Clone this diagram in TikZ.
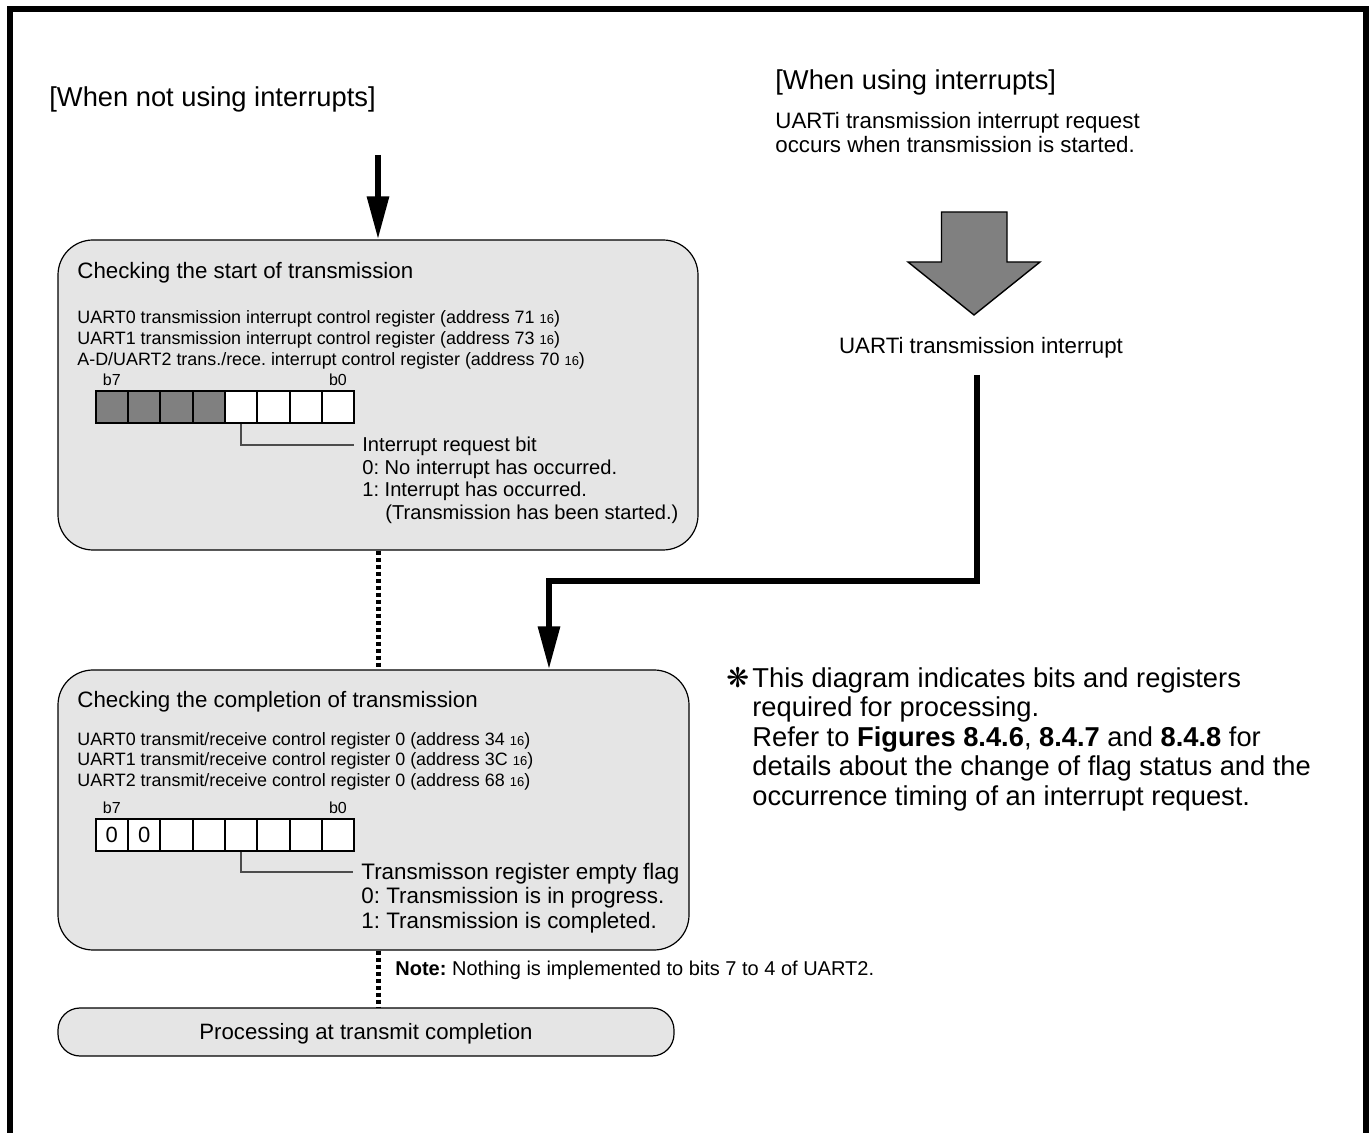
\documentclass[tikz,border=0pt]{standalone}
\usepackage{fontspec}
\setmainfont{Liberation Sans}
\newfontfamily\symfont{DejaVu Sans}
\usetikzlibrary{arrows.meta,positioning}
\definecolor{boxfill}{gray}{0.9}
\definecolor{cellfill}{gray}{0.5}
\newcommand{\hexsub}[1]{#1 {\fontsize{6.5pt}{7pt}\selectfont 16}}
\frenchspacing

\begin{document}
\begin{tikzpicture}[x=0.5pt,y=-0.5pt,
  every node/.style={inner sep=0pt, text height=0.7em, text depth=0pt},
  ttl/.style={anchor=west, font=\fontsize{13.65pt}{16pt}\selectfont},
  body/.style={anchor=west, font=\fontsize{11.15pt}{13pt}\selectfont},
  reg/.style={anchor=west, font=\fontsize{8.95pt}{10pt}\selectfont},
  desc/.style={anchor=west, font=\fontsize{10.05pt}{12pt}\selectfont},
  flag/.style={anchor=west, font=\fontsize{11.2pt}{13pt}\selectfont},
  lbl/.style={font=\fontsize{8pt}{9pt}\selectfont},
  box/.style={draw=black, line width=0.6pt, fill=boxfill, rounded corners=17.5pt},
  cell/.style={draw=black, line width=1pt, fill=white, minimum width=16.15pt, minimum height=16pt,
    font=\fontsize{11pt}{13pt}\selectfont},
  flow/.style={line width=3pt, -{Triangle[length=21.5pt,width=10.5pt]}},
  dotline/.style={line width=2.5pt, dash pattern=on 2pt off 1.5pt},
  leader/.style={draw=black!70, line width=0.6pt, shorten >=4pt}]
\useasboundingbox (0,0) rectangle (1372,1133);
% outer frame
\draw[line width=3pt] (10,1150) -- (10,9) -- (1366,9) -- (1366,1150);

% left column
\node[ttl] (nouse) at (49,100) {[When not using interrupts]};
\coordinate (start1) at (378,155);

\node[box, minimum width=320pt, minimum height=155pt] (box1) at (378,395) {};
\node[body] (t1) at (77,271.3) {Checking the start of transmission};
\node[reg] (r10) at (77,316.7) {UART0 transmission interrupt control register (address \hexsub{71})};
\node[reg] (r11) at (77,337.4) {UART1 transmission interrupt control register (address \hexsub{73})};
\node[reg] (r12) at (77,358.1) {A-D/UART2 trans./rece. interrupt control register (address \hexsub{70})};
\foreach \i in {0,...,3}
  \node[cell, fill=cellfill] (s\i) at (111.85+32.3*\i,406.7) {};
\foreach \i in {4,...,7}
  \node[cell] (s\i) at (111.85+32.3*\i,406.7) {};
\node[lbl, above=2pt of s0] (s0lbl) {b7};
\node[lbl, above=2pt of s7] (s7lbl) {b0};
\node[desc] (irq) at (362,445) {Interrupt request bit};
\node[desc] (irq0) at (362,467.5) {0: No interrupt has occurred.};
\node[desc] (irq1) at (362,490) {1: Interrupt has occurred.};
\node[desc] (irq2) at (385,512.5) {(Transmission has been started.)};
\draw[leader] (s4.south) |- (irq.west);

\node[box, minimum width=315.5pt, minimum height=140pt] (box2) at (373.5,810) {};
\node[body] (t2) at (77,700.5) {Checking the completion of transmission};
\node[reg] (r20) at (77,738.3) {UART0 transmit/receive control register 0 (address \hexsub{34})};
\node[reg] (r21) at (77,759) {UART1 transmit/receive control register 0 (address \hexsub{3C})};
\node[reg] (r22) at (77,779.7) {UART2 transmit/receive control register 0 (address \hexsub{68})};
\foreach \i/\v in {0/0,1/0,2/{},3/{},4/{},5/{},6/{},7/{}}
  \node[cell] (c\i) at (111.85+32.3*\i,835) {\v};
\node[lbl, above=2pt of c0] (c0lbl) {b7};
\node[lbl, above=2pt of c7] (c7lbl) {b0};
\node[flag] (tef) at (361,872) {Transmisson register empty flag};
\node[flag] (tef0) at (361,896.7) {0: Transmission is in progress.};
\node[flag] (tef1) at (361,921.3) {1: Transmission is completed.};
\draw[leader] (c4.south) |- (tef.west);

\node[anchor=west, font=\fontsize{10pt}{12pt}\selectfont] (note) at (395,968)
  {\textbf{Note:} Nothing is implemented to bits 7 to 4 of UART2.};

\node[box, rounded corners=11pt, minimum width=308pt, minimum height=24pt,
  font=\fontsize{11.1pt}{13pt}\selectfont] (box3) at (366,1032) {Processing at transmit completion};

\draw[flow] (start1) -- (box1.north);
\draw[dotline] (box1.south) -- (box1.south |- box2.north);
\draw[dotline] (box1.south |- box2.south) -- (box1.south |- box3.north);

% right column
\node[ttl] (use) at (775,83) {[When using interrupts]};
\node[body] (req1) at (775,121.5) {UARTi transmission interrupt request};
\node[body] (req2) at (775,146) {occurs when transmission is started.};
\draw[fill=cellfill, line width=0.7pt] (941.5,212) -- (1007,212) -- (1007,262) -- (1040,262)
  -- (974,315) -- (908,262) -- (941.5,262) -- cycle;
\node[font=\fontsize{11.15pt}{13pt}\selectfont] (uti) at (981,346.7) {UARTi transmission interrupt};
\coordinate (top2) at (977,375);
\coordinate (bend) at (549,581);
\draw[flow] (top2) |- (bend) -- (bend |- box2.north);

\node[anchor=west, font=\fontsize{13.6pt}{16pt}\symfont] (star) at (726,680.5) {❋};
\node[ttl] (n1) at (752,680.5) {This diagram indicates bits and registers};
\node[ttl] (n2) at (752,710) {required for processing.};
\node[ttl] (n3) at (752,739.5) {Refer to \textbf{Figures 8.4.6}, \textbf{8.4.7} and \textbf{8.4.8} for};
\node[ttl] (n4) at (752,769) {details about the change of flag status and the};
\node[ttl] (n5) at (752,798.5) {occurrence timing of an interrupt request.};
\end{tikzpicture}
\end{document}
